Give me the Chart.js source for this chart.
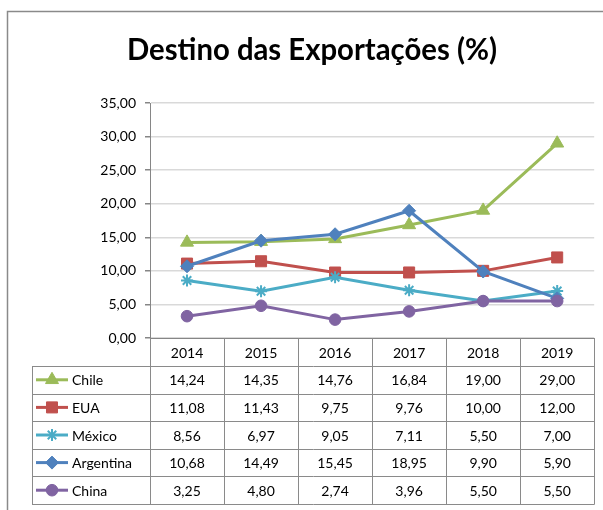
<!DOCTYPE html>
<html>
<head>
<meta charset="utf-8">
<script src="https://cdn.jsdelivr.net/npm/chart.js@4/dist/chart.umd.min.js"></script>
<style>
html,body{margin:0;padding:0;background:#fff;}
canvas{display:block;}
</style>
</head>
<body>
<canvas id="c" width="603" height="510"></canvas>
<script>
const title = "Destino das Exportações (%)";
const years = ["2014", "2015", "2016", "2017", "2018", "2019"];
const seriesNames = ["Chile", "EUA", "México", "Argentina", "China"];
const chile = [14.24, 14.35, 14.76, 16.84, 19.00, 29.00];
const eua = [11.08, 11.43, 9.75, 9.76, 10.00, 12.00];
const mexico = [8.56, 6.97, 9.05, 7.11, 5.50, 7.00];
const argentina = [10.68, 14.49, 15.45, 18.95, 9.90, 5.90];
const china = [3.25, 4.80, 2.74, 3.96, 5.50, 5.50];
const yTicks = [0, 5, 10, 15, 20, 25, 30, 35];

const colors = ["#9BBB59", "#C0504D", "#4BACC6", "#4F81BD", "#8064A2"];
const styles = ["triangle", "rect", "star", "rectRot", "circle"];
const radii = [7.5, 7.8, 6, 6.5, 5.8];
const values = [chile, eua, mexico, argentina, china];

const fmt = v => v.toFixed(2).replace('.', ',');
const FONT = "Lato, 'DejaVu Sans', sans-serif";

const datasets = seriesNames.map((name, i) => ({
  label: name,
  data: values[i],
  borderColor: colors[i],
  backgroundColor: colors[i],
  borderWidth: 3,
  pointStyle: styles[i],
  pointRadius: radii[i],
  pointHoverRadius: radii[i],
  pointBackgroundColor: colors[i],
  pointBorderColor: colors[i],
  pointBorderWidth: styles[i] === 'star' ? 2 : 1,
  tension: 0,
  order: 5 - i
}));

const tablePlugin = {
  id: 'tablePlugin',
  beforeDraw(chart) {
    const ctx = chart.ctx;
    ctx.save();
    ctx.fillStyle = '#fff';
    ctx.fillRect(0, 0, chart.width, chart.height);
    ctx.restore();
  },
  afterDraw(chart) {
    const ctx = chart.ctx;
    const ca = chart.chartArea;
    const xs = chart.scales.x;
    ctx.save();
    // outer border
    ctx.strokeStyle = '#8a8a8a';
    ctx.lineWidth = 1.5;
    ctx.beginPath();
    ctx.moveTo(7.5, 520);
    ctx.lineTo(7.5, 11.5);
    ctx.lineTo(620, 11.5);
    ctx.stroke();

    // title
    ctx.fillStyle = '#000';
    ctx.font = "bold 30px " + FONT;
    ctx.textBaseline = 'alphabetic';
    ctx.textAlign = 'left';
    const tw = ctx.measureText(title).width;
    const target = 370;
    const sx = target / tw;
    ctx.save();
    ctx.translate(127, 60);
    ctx.scale(sx, 1);
    ctx.fillText(title, 0, 0);
    ctx.restore();

    // table geometry
    const n = years.length;
    const bw = (ca.right - ca.left) / n;
    const tableLeft = 32;
    const top = ca.bottom;
    const headerBottom = top + 28;
    const rowH = 27.6;
    const bottom = headerBottom + rowH * seriesNames.length;

    ctx.strokeStyle = '#8a8a8a';
    ctx.lineWidth = 1;
    ctx.beginPath();
    for (let i = 0; i <= n; i++) {
      const x = Math.round(ca.left + i * bw) + 0.5;
      ctx.moveTo(x, top);
      ctx.lineTo(x, bottom);
    }
    ctx.moveTo(tableLeft + 0.5, headerBottom);
    ctx.lineTo(tableLeft + 0.5, bottom);
    for (let r = 0; r <= seriesNames.length; r++) {
      const y = Math.round(headerBottom + r * rowH) + 0.5;
      ctx.moveTo(tableLeft, y);
      ctx.lineTo(ca.right + 0.5, y);
    }
    ctx.stroke();

    ctx.font = "14px " + FONT;
    ctx.fillStyle = '#000';
    ctx.textBaseline = 'middle';
    ctx.textAlign = 'center';
    for (let i = 0; i < n; i++) {
      const cx = xs.getPixelForValue(i);
      ctx.fillText(years[i], cx, (top + headerBottom) / 2 + 1);
      for (let r = 0; r < seriesNames.length; r++) {
        const cy = headerBottom + r * rowH + rowH / 2 + 1;
        ctx.fillText(fmt(values[r][i]), cx, cy);
      }
    }
    // legend keys
    for (let r = 0; r < seriesNames.length; r++) {
      const cy = headerBottom + r * rowH + rowH / 2;
      ctx.strokeStyle = colors[r];
      ctx.fillStyle = colors[r];
      ctx.lineWidth = 3;
      ctx.beginPath();
      ctx.moveTo(36, cy);
      ctx.lineTo(68, cy);
      ctx.stroke();
      ctx.lineWidth = styles[r] === 'star' ? 2 : 1;
      Chart.helpers.drawPoint(ctx, {pointStyle: styles[r], radius: radii[r], rotation: 0, borderWidth: ctx.lineWidth}, 52, cy);
      ctx.fillStyle = '#000';
      ctx.textAlign = 'left';
      ctx.fillText(seriesNames[r], 72, cy + 1);
    }
    ctx.restore();
  }
};

new Chart(document.getElementById('c'), {
  type: 'line',
  data: { labels: years, datasets },
  options: {
    responsive: false,
    devicePixelRatio: 1,
    animation: false,
    events: [],
    layout: { padding: { left: 0, right: 3, top: 103, bottom: 172 } },
    plugins: { legend: { display: false }, title: { display: false }, tooltip: { enabled: false } },
    scales: {
      x: {
        type: 'category',
        offset: true,
        ticks: { display: false },
        grid: { display: false },
        border: { display: true, color: '#868686', width: 1 },
        afterFit(s) { s.height = 0; }
      },
      y: {
        min: 0, max: 35,
        afterBuildTicks(s) { s.ticks = yTicks.map(v => ({ value: v })); },
        ticks: {
          callback: v => fmt(v),
          font: { family: FONT, size: 14 },
          color: '#000',
          padding: 9
        },
        grid: { color: '#d9d9d9', tickColor: '#868686', tickLength: 5, lineWidth: 1.5 },
        border: { display: true, color: '#868686', width: 1 },
        afterFit(s) { s.width = 150; }
      }
    }
  },
  plugins: [tablePlugin]
});
</script>
</body>
</html>
